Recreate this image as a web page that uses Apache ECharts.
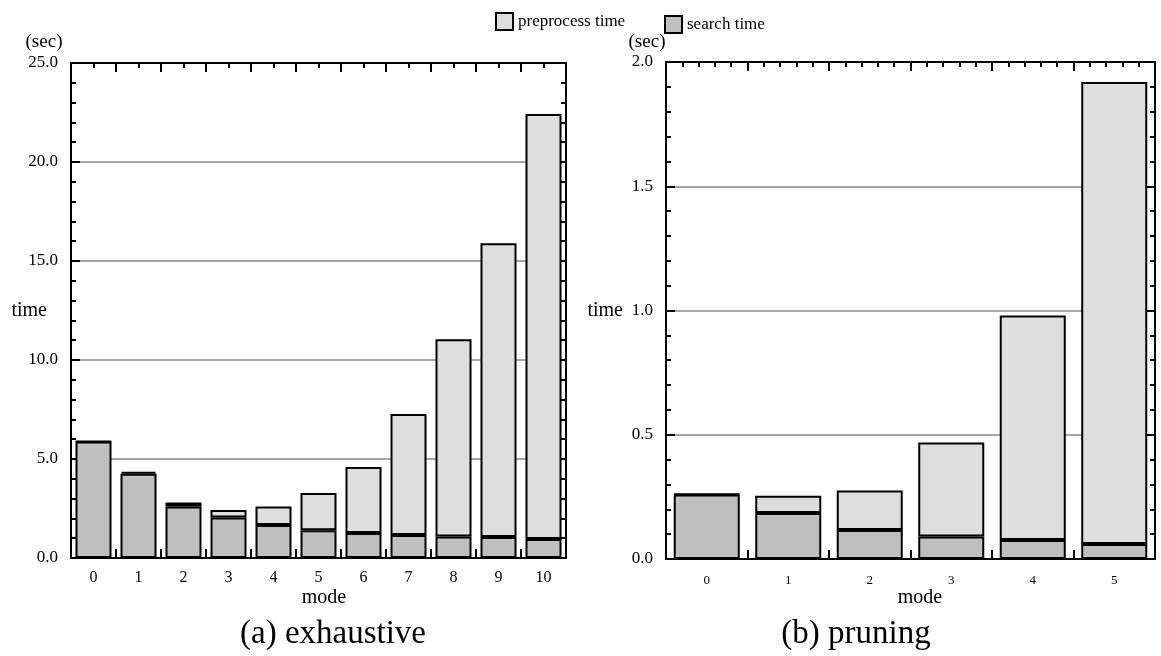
<!DOCTYPE html>
<html lang="en">
<head>
<meta charset="UTF-8">
<title>preprocess / search time</title>
<style>
  html, body { margin: 0; padding: 0; background: #fff; }
  #chart { width: 1161px; height: 656px; }
</style>
</head>
<body>
<div id="chart"></div>
<script src="https://cdn.jsdelivr.net/npm/echarts@6/dist/echarts.min.js"></script>
<script>
// (a) exhaustive
var modesA = ['0', '1', '2', '3', '4', '5', '6', '7', '8', '9', '10'];
var searchA = [5.88, 4.25, 2.6, 2.04, 1.67, 1.4, 1.26, 1.16, 1.08, 1.06, 0.96];
var preA = [0.02, 0.1, 0.2, 0.38, 0.93, 1.88, 3.34, 6.11, 9.97, 14.84, 21.46];
var yMaxA = 25, yStepA = 5;

// (b) pruning
var modesB = ['0', '1', '2', '3', '4', '5'];
var searchB = [0.26, 0.185, 0.117, 0.091, 0.076, 0.06];
var preB = [0.002, 0.07, 0.159, 0.378, 0.904, 1.86];
var yMaxB = 2, yStepB = 0.5;

var font = 'Liberation Serif';
var black = { color: '#000', width: 2 };
var chart = echarts.init(document.getElementById('chart'));

// value axis used only to draw the frame ticks (category axes have no minor ticks)
function frameX(grid, pos, max, minorSplit) {
  return {
    type: 'value', gridIndex: grid, position: pos,
    min: 0, max: max, interval: 1,
    axisLine: { show: pos == 'top', onZero: false, lineStyle: black },
    axisTick: { show: true, inside: true, length: 9, lineStyle: black },
    minorTick: { show: true, splitNumber: minorSplit, length: 5, lineStyle: black },
    axisLabel: { show: false },
    splitLine: { show: false }
  };
}

function catX(grid, data, fontSize, margin) {
  return {
    type: 'category', gridIndex: grid, data: data, position: 'bottom',
    axisLine: { show: true, onZero: false, lineStyle: black },
    axisTick: { show: false },
    axisLabel: { margin: margin, fontFamily: font, fontSize: fontSize, color: '#000' },
    splitLine: { show: false }
  };
}

function frameY(grid, pos, max, step, main, nameGap) {
  return {
    type: 'value', gridIndex: grid, position: pos,
    min: 0, max: max, interval: step,
    name: main ? 'time' : '', nameLocation: 'middle', nameRotate: 0, nameGap: nameGap,
    nameMoveOverlap: false,
    nameTextStyle: { fontFamily: font, fontSize: 20, color: '#000' },
    axisLine: { show: true, onZero: false, lineStyle: black },
    axisTick: { show: true, inside: true, length: 9, lineStyle: black },
    minorTick: { show: true, splitNumber: 5, length: 5, lineStyle: black },
    axisLabel: {
      show: main, margin: 13, fontFamily: font, fontSize: 17, color: '#000',
      formatter: function (v) { return v.toFixed(1); }
    },
    splitLine: { show: main, lineStyle: { color: '#8a8a8a', width: 1.5 } }
  };
}

function bars(name, data, xi, yi, stack, color, gap) {
  return {
    name: name, type: 'bar', data: data, stack: stack,
    xAxisIndex: xi, yAxisIndex: yi, barCategoryGap: gap,
    itemStyle: { color: color, borderColor: '#000', borderWidth: 2 },
    emphasis: { disabled: true }
  };
}

var legendBase = {
  itemWidth: 17, itemHeight: 17, selectedMode: false, icon: 'rect',
  itemStyle: { borderColor: '#000', borderWidth: 2 },
  textStyle: { fontFamily: font, fontSize: 17, color: '#000' }
};

function label(text, x, y, size) {
  return {
    type: 'text', x: x, y: y,
    style: { text: text, fontFamily: font, fontSize: size, fill: '#000', align: 'center', verticalAlign: 'middle' }
  };
}

chart.setOption({
  animation: false,
  legend: [
    Object.assign({ data: ['preprocess time'], left: 490, top: 7 }, legendBase),
    Object.assign({ data: ['search time'], left: 659, top: 10 }, legendBase)
  ],
  grid: [
    { left: 71, top: 63, width: 495, height: 495, containLabel: false, outerBoundsMode: 'none' },
    { left: 666, top: 62, width: 489, height: 497, containLabel: false, outerBoundsMode: 'none' }
  ],
  xAxis: [
    catX(0, modesA, 16, 12),
    frameX(0, 'bottom', modesA.length, 2),
    frameX(0, 'top', modesA.length, 2),
    catX(1, modesB, 13, 15),
    frameX(1, 'bottom', modesB.length, 5),
    frameX(1, 'top', modesB.length, 5)
  ],
  yAxis: [
    frameY(0, 'left', yMaxA, yStepA, true, 24),
    frameY(0, 'right', yMaxA, yStepA, false, 0),
    frameY(1, 'left', yMaxB, yStepB, true, 43),
    frameY(1, 'right', yMaxB, yStepB, false, 0)
  ],
  series: [
    bars('search time', searchA, 0, 0, 'a', '#bfbfbf', '20%'),
    bars('preprocess time', preA, 0, 0, 'a', '#dedede', '20%'),
    bars('search time', searchB, 3, 2, 'b', '#bfbfbf', '19%'),
    bars('preprocess time', preB, 3, 2, 'b', '#dedede', '19%')
  ],
  graphic: [
    label('(sec)', 44, 42, 19),
    label('(sec)', 647, 42, 19),
    label('mode', 324, 598, 20),
    label('mode', 920, 598, 20),
    label('(a) exhaustive', 333, 634, 33),
    label('(b) pruning', 856, 634, 33)
  ]
});
</script>
</body>
</html>
